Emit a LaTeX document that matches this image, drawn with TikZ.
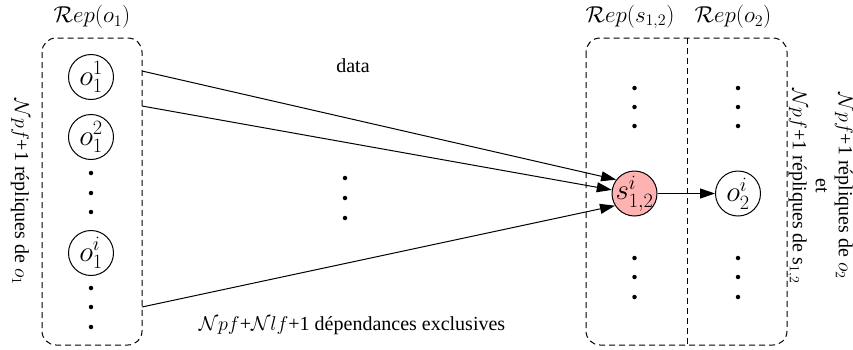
\RequirePackage{fix-cm}
\documentclass[tikz,border=0pt]{standalone}
\usepackage{fontspec}
\setmainfont{Liberation Serif}
\usetikzlibrary{arrows.meta}
\tikzset{
  every node/.style={font=\fontsize{20}{23}\selectfont},
  cluster/.style={draw, dash pattern=on 6pt off 4pt, rounded corners=14pt, line width=1pt},
  rep/.style={draw, circle, minimum size=45pt, inner sep=0pt, line width=1pt},
  repfill/.style={rep, fill=red!30!white},
  nodelbl/.style={inner sep=0pt, font=\fontsize{29}{32}\selectfont},
  titlelbl/.style={inner sep=1pt, font=\fontsize{23}{26}\selectfont},
  dep/.style={line width=1pt, -{Triangle[length=15pt,width=10pt]}},
  dotmark/.style={circle, fill=black, minimum size=4.5pt, inner sep=0pt},
  lbl/.style={inner sep=1pt}
}
\begin{document}
\begin{tikzpicture}[x=1pt,y=-1pt]
\useasboundingbox (0,0) rectangle (853,349);
% clusters
\draw[cluster] (42,38) rectangle (142,345);
\draw[cluster] (586,38) rectangle (787,345);
\draw[line width=1pt, dash pattern=on 6pt off 4pt] (687,38) -- (687,345);
% titles
\node[titlelbl] (t1) at (92,17) {$\mathcal{R}ep(o_1)$};
\node[titlelbl] (t2) at (630,17) {$\mathcal{R}ep(s_{1,2})$};
\node[titlelbl] (t3) at (733,17) {$\mathcal{R}ep(o_2)$};
% left replicas
\node[rep, label={[nodelbl]center:$o_1^1$}] (o11) at (91,77) {};
\node[rep, label={[nodelbl]center:$o_1^2$}] (o12) at (91,137) {};
\node[rep, label={[nodelbl]center:$o_1^i$}] (o1i) at (91,253) {};
\foreach \y in {173,193,212,288,307,327} \node[dotmark] at (91,\y) {};
% right replicas
\node[repfill, label={[nodelbl]center:$s_{1,2}^i$}] (s) at (634.5,193.5) {};
\node[rep, label={[nodelbl]center:$o_2^i$}] (o2) at (738,193.5) {};
\foreach \y in {88,107,126,258,277,297} {
  \node[dotmark] at (634.5,\y) {};
  \node[dotmark] at (738,\y) {};
}
% middle dots
\foreach \y in {178,198,218} \node[dotmark] at (345,\y) {};
% connector starts
\coordinate (a1) at (142,71);
\coordinate (a2) at (142,106);
\coordinate (a3) at (142,307);
\draw[dep] (a1) -- (s.143);
\draw[dep] (a2) -- (s.171);
\draw[dep] (a3) -- (s.212);
\draw[dep] (s) -- (o2);
% labels
\node[lbl] (data) at (353,66) {data};
\node[lbl] (excl) at (352,326) {$\mathcal{N}pf$+$\mathcal{N}lf$+1 dépendances exclusives};
\node[lbl, rotate=-90] (left) at (20,192) {$\mathcal{N}pf$+1 répliques de $o_1$};
\node[lbl, rotate=-90, align=center] (right) at (820,186) {$\mathcal{N}pf$+1 répliques de $o_2$\\et\\$\mathcal{N}pf$+1 répliques de s$_{1,2}$};
\end{tikzpicture}
\end{document}
